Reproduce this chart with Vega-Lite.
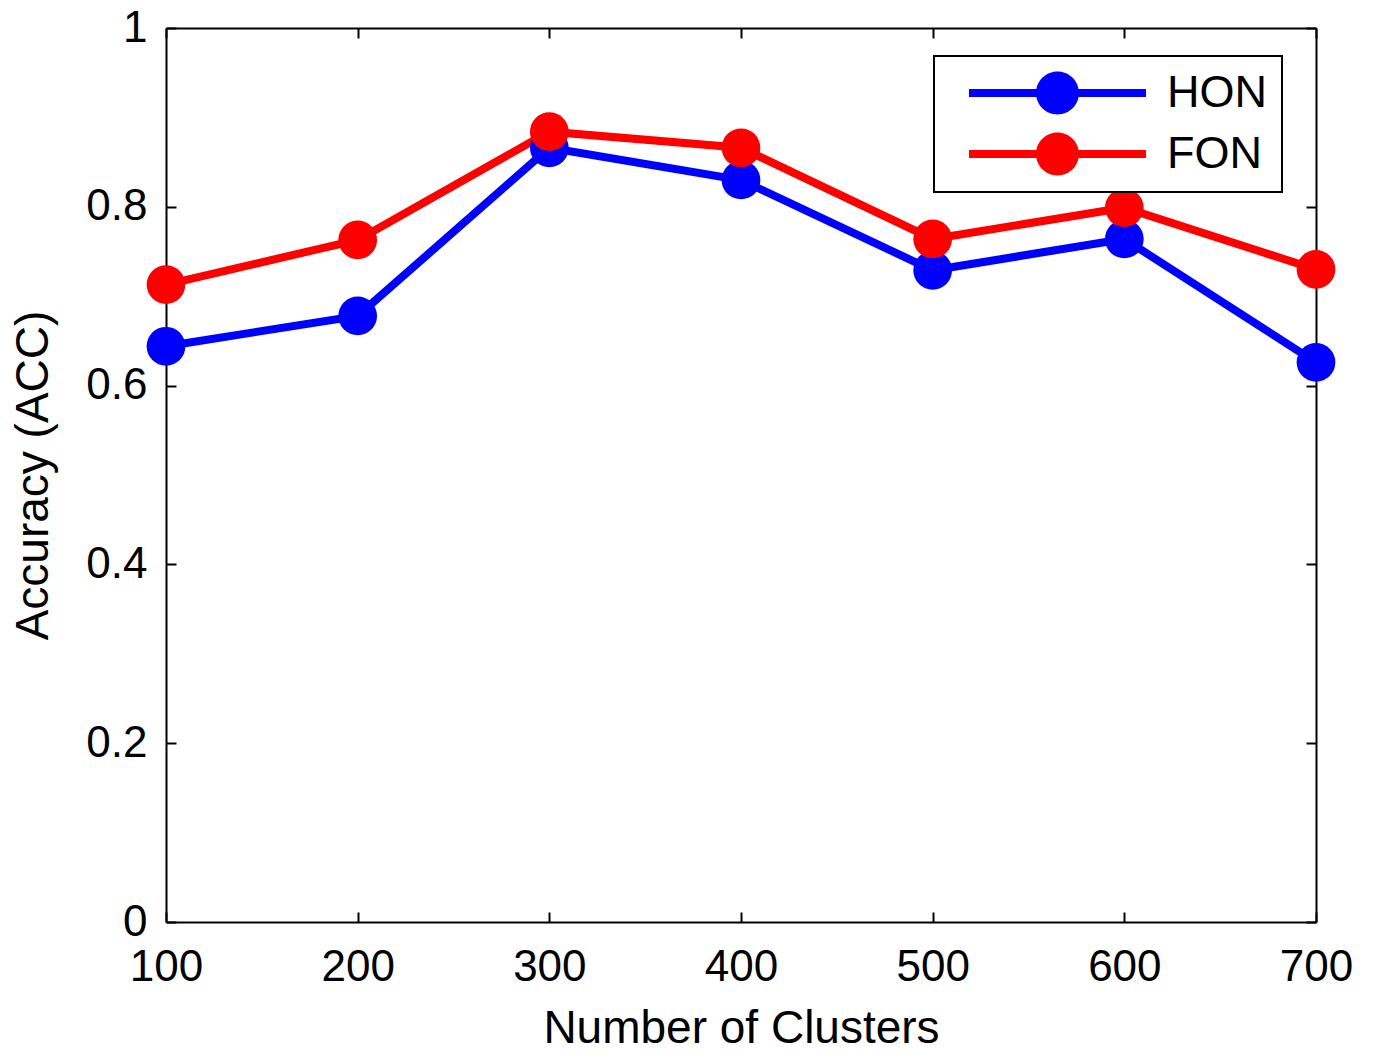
{
  "$schema": "https://vega.github.io/schema/vega-lite/v6.json",
  "width": 1150,
  "height": 894,
  "autosize": {"type": "none"},
  "padding": {"left": 166, "top": 28, "right": 60, "bottom": 133},
  "background": "white",
  "data": {
    "values": [
      {"clusters": 100, "acc": 0.644, "method": "HON"},
      {"clusters": 200, "acc": 0.678, "method": "HON"},
      {"clusters": 300, "acc": 0.866, "method": "HON"},
      {"clusters": 400, "acc": 0.830, "method": "HON"},
      {"clusters": 500, "acc": 0.729, "method": "HON"},
      {"clusters": 600, "acc": 0.764, "method": "HON"},
      {"clusters": 700, "acc": 0.626, "method": "HON"},
      {"clusters": 100, "acc": 0.713, "method": "FON"},
      {"clusters": 200, "acc": 0.763, "method": "FON"},
      {"clusters": 300, "acc": 0.884, "method": "FON"},
      {"clusters": 400, "acc": 0.866, "method": "FON"},
      {"clusters": 500, "acc": 0.764, "method": "FON"},
      {"clusters": 600, "acc": 0.799, "method": "FON"},
      {"clusters": 700, "acc": 0.730, "method": "FON"}
    ]
  },
  "encoding": {
    "color": {
      "field": "method",
      "type": "nominal",
      "sort": ["HON", "FON"],
      "scale": {"domain": ["HON", "FON"], "range": ["#0000ff", "#ff0000"]},
      "legend": {
        "title": null,
        "orient": "none",
        "legendX": 768,
        "legendY": 28,
        "padding": 15,
        "rowPadding": 16,
        "clipHeight": 44,
        "labelOffset": 1,
        "labelFont": "Liberation Sans",
        "labelFontSize": 45,
        "labelColor": "black",
        "symbolType": "M-0.816,-0.037 L-0.19,-0.037 L-0.19,0.037 L-0.816,0.037 Z M0.19,-0.037 L0.816,-0.037 L0.816,0.037 L0.19,0.037 Z M0.198,0 A0.198,0.198 0 1,1 -0.198,0 A0.198,0.198 0 1,1 0.198,0 Z",
        "symbolSize": 47089,
        "symbolStrokeWidth": 0,
        "strokeColor": "black",
        "fillColor": "white",
        "encode": {
          "symbols": {
            "update": {
              "fill": {"scale": "color", "field": "value"},
              "stroke": {"value": "transparent"},
              "opacity": {"value": 1}
            }
          }
        }
      }
    }
  },
  "layer": [
    {
      "mark": {"type": "line", "strokeWidth": 8},
      "encoding": {
        "x": {
          "field": "clusters",
          "type": "quantitative",
          "scale": {"domain": [100, 700], "nice": false, "zero": false},
          "axis": {
            "orient": "bottom",
            "title": "Number of Clusters",
            "values": [100, 200, 300, 400, 500, 600, 700],
            "labelPadding": 33,
            "titlePadding": 17
          }
        },
        "y": {
          "field": "acc",
          "type": "quantitative",
          "scale": {"domain": [0, 1], "nice": false, "zero": false},
          "axis": {
            "orient": "left",
            "title": "Accuracy (ACC)",
            "values": [0, 0.2, 0.4, 0.6, 0.8, 1],
            "format": "~g",
            "labelPadding": 29,
            "titlePadding": 28
          }
        }
      }
    },
    {
      "mark": {"type": "point", "filled": true, "size": 1500, "opacity": 1},
      "encoding": {
        "x": {
          "field": "clusters",
          "type": "quantitative",
          "scale": {"domain": [100, 700], "nice": false, "zero": false},
          "axis": {
            "orient": "top",
            "title": null,
            "labels": false,
            "values": [100, 200, 300, 400, 500, 600, 700]
          }
        },
        "y": {
          "field": "acc",
          "type": "quantitative",
          "scale": {"domain": [0, 1], "nice": false, "zero": false},
          "axis": {
            "orient": "right",
            "title": null,
            "labels": false,
            "values": [0, 0.2, 0.4, 0.6, 0.8, 1]
          }
        }
      }
    }
  ],
  "resolve": {"axis": {"x": "independent", "y": "independent"}},
  "config": {
    "view": {"stroke": null},
    "legend": {"strokeWidth": 2},
    "axis": {
      "grid": false,
      "zindex": 1,
      "domainColor": "black",
      "domainWidth": 2,
      "tickColor": "black",
      "tickWidth": 2,
      "tickSize": -10,
      "labelFont": "Liberation Sans",
      "labelFontSize": 44,
      "labelColor": "black",
      "labelFlush": false,
      "labelOverlap": false,
      "titleFont": "Liberation Sans",
      "titleFontSize": 46,
      "titleFontWeight": "normal",
      "titleColor": "black"
    }
  }
}
